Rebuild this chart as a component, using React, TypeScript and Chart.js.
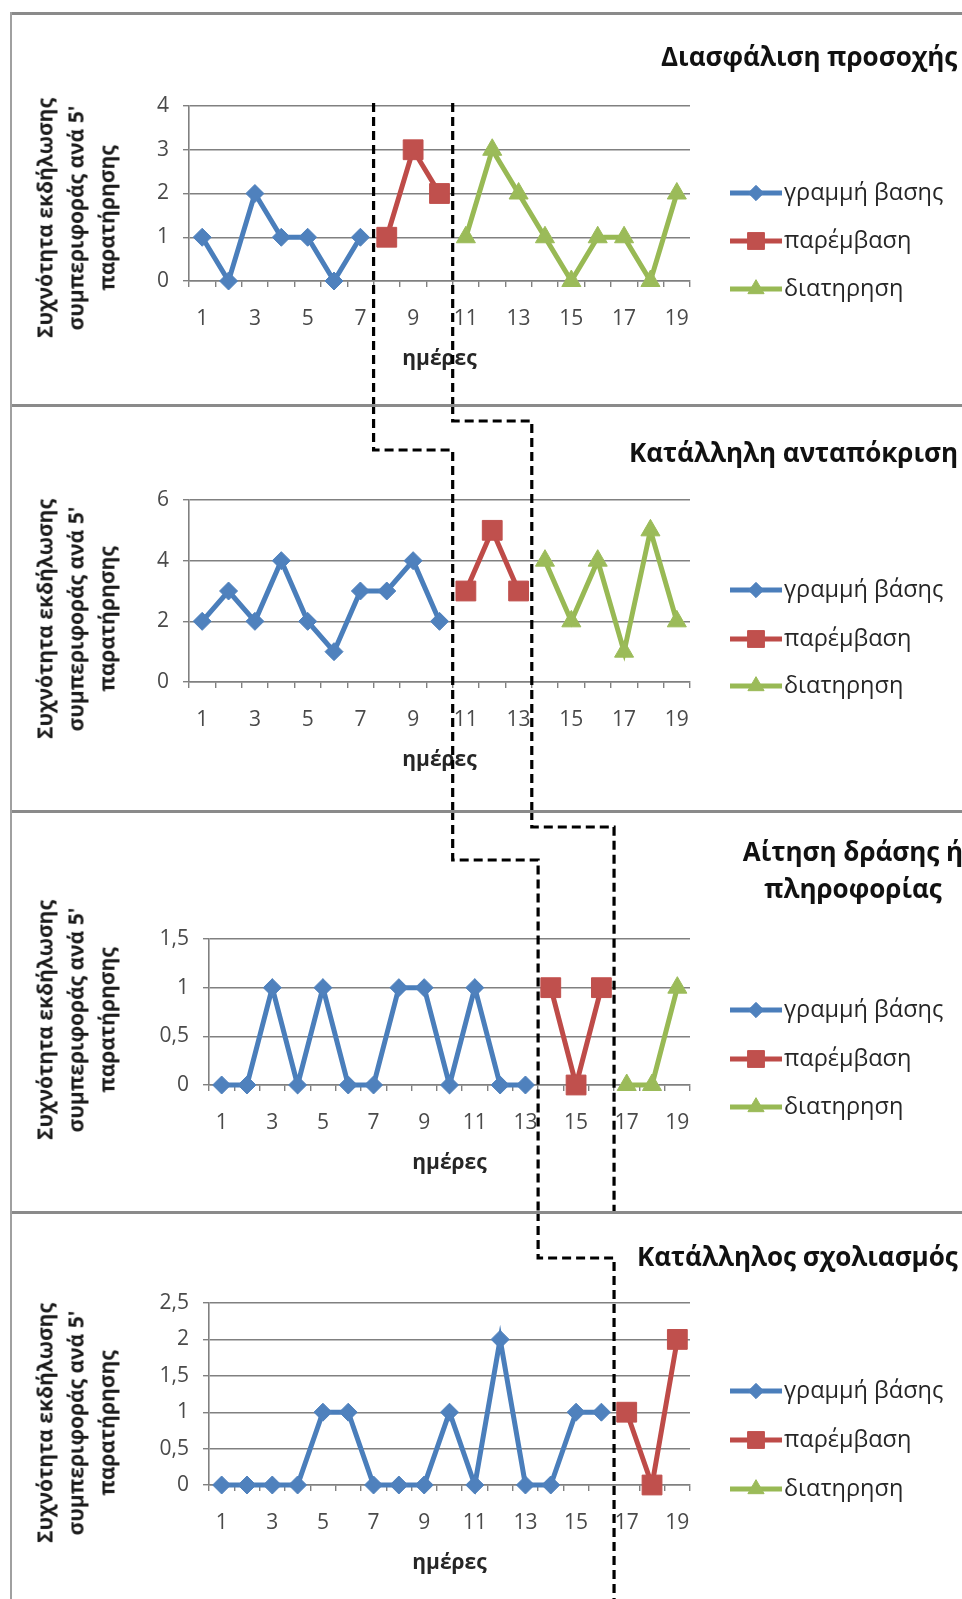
import React, { useEffect, useRef } from 'react';
import { Chart, registerables } from 'chart.js';
import { drawPoint } from 'chart.js/helpers';

Chart.register(...registerables);

// ---------- DATA ----------
const days = ['1', '2', '3', '4', '5', '6', '7', '8', '9', '10', '11', '12', '13', '14', '15', '16', '17', '18', '19'];

const attentionBaseline = [1, 0, 2, 1, 1, 0, 1];
const attentionIntervention = [1, 3, 2];
const attentionMaintenance = [1, 3, 2, 1, 0, 1, 1, 0, 2];

const responseBaseline = [2, 3, 2, 4, 2, 1, 3, 3, 4, 2];
const responseIntervention = [3, 5, 3];
const responseMaintenance = [4, 2, 4, 1, 5, 2];

const requestBaseline = [0, 0, 1, 0, 1, 0, 0, 1, 1, 0, 1, 0, 0];
const requestIntervention = [1, 0, 1];
const requestMaintenance = [0, 0, 1];

const commentBaseline = [0, 0, 0, 0, 1, 1, 0, 0, 0, 1, 0, 2, 0, 0, 1, 1];
const commentIntervention = [1, 0, 2];
const commentMaintenance: number[] = [];

const panelTitles = [
  ['Διασφάλιση προσοχής'],
  ['Κατάλληλη ανταπόκριση'],
  ['Αίτηση δράσης ή', 'πληροφορίας'],
  ['Κατάλληλος σχολιασμός'],
];
const seriesLabelsFirst = ['γραμμή βασης', 'παρέμβαση', 'διατηρηση'];
const seriesLabels = ['γραμμή βάσης', 'παρέμβαση', 'διατηρηση'];
const yMaxes = [4, 6, 1.5, 2.5];
const ySteps = [1, 2, 0.5, 0.5];
const yAxisTitle = ['Συχνότητα εκδήλωσης', "συμπεριφοράς ανά 5'", 'παρατήρησης'];
const xAxisTitle = 'ημέρες';

const panelPhases = [
  [attentionBaseline, attentionIntervention, attentionMaintenance],
  [responseBaseline, responseIntervention, responseMaintenance],
  [requestBaseline, requestIntervention, requestMaintenance],
  [commentBaseline, commentIntervention, commentMaintenance],
];

// ---------- STYLE / LAYOUT ----------
const W = 962;
const FONT = "'Open Sans', 'Noto Sans', sans-serif";
const GRID = '#808080';
const TICK_COLOR = '#4a4a4a';
const X_TITLE_SIZE = 21;
const X_TITLE_OFFSET = 78; // distance axis -> centre of x title
const SERIES_STYLE = [
  { line: '#4A7EBB', fill: '#4F81BD', pointStyle: 'rectRot', radius: 9 },
  { line: '#BE4B48', fill: '#C0504D', pointStyle: 'rect', radius: 14 },
  { line: '#98B954', fill: '#9BBB59', pointStyle: 'triangle', radius: 11 },
];

type PanelLayout = {
  top: number; height: number; areaTop: number; areaBottom: number; areaLeft: number; areaRight: number;
  legendYs: number[]; conn: number[]; titleLeft?: number; titleCenter?: number; titleTop: number; yTitleCy: number;
};

const LAYOUT: PanelLayout[] = [
  { top: 0, height: 405, areaTop: 106, areaBottom: 281, areaLeft: 189, areaRight: 690, legendYs: [193, 241, 289], conn: [0, 0], titleLeft: 661, titleTop: 56, yTitleCy: 218 },
  { top: 405, height: 406, areaTop: 95, areaBottom: 277, areaLeft: 189, areaRight: 690, legendYs: [185, 234, 281], conn: [45, 16], titleLeft: 629, titleTop: 47, yTitleCy: 214 },
  { top: 811, height: 401, areaTop: 128, areaBottom: 274, areaLeft: 209, areaRight: 690, legendYs: [199, 248, 296], conn: [49, 16], titleCenter: 853, titleTop: 41, yTitleCy: 209 },
  { top: 1212, height: 387, areaTop: 91, areaBottom: 273, areaLeft: 209, areaRight: 690, legendYs: [179, 228, 277], conn: [46, 16], titleLeft: 637, titleTop: 44, yTitleCy: 211 },
];

function phaseData(phases: number[][]) {
  const out: (number | null)[][] = [];
  let offset = 0;
  phases.forEach((vals) => {
    const arr: (number | null)[] = days.map(() => null);
    vals.forEach((v, i) => { arr[offset + i] = v; });
    out.push(arr);
    offset += vals.length;
  });
  return out;
}

function boundaries(phases: number[][]) {
  const b1 = phases[0].length;
  const b2 = b1 + phases[1].length;
  return [b1, b2];
}

const legendPlugin = {
  id: 'excelLegend',
  afterDraw(chart: any, _a: any, opts: any) {
    const ctx = chart.ctx;
    const x0 = 730;
    const len = 52;
    chart.data.datasets.forEach((ds: any, i: number) => {
      const y = opts.ys[i];
      ctx.save();
      ctx.strokeStyle = ds.borderColor;
      ctx.lineWidth = 5;
      ctx.beginPath();
      ctx.moveTo(x0, y);
      ctx.lineTo(x0 + len, y);
      ctx.stroke();
      ctx.fillStyle = ds.pointBackgroundColor;
      ctx.strokeStyle = ds.pointBorderColor;
      ctx.lineWidth = 1;
      drawPoint(ctx, { pointStyle: ds.pointStyle, radius: ds.pointRadius * 0.85, rotation: 0, borderWidth: 1 } as any, x0 + len / 2, y);
      ctx.fillStyle = '#262626';
      ctx.font = `23.5px ${FONT}`;
      ctx.textBaseline = 'middle';
      ctx.textAlign = 'left';
      ctx.fillText(ds.label, x0 + len + 2, y);
      ctx.restore();
    });
  },
};

export default function App() {
  const refs = [useRef<HTMLCanvasElement>(null), useRef<HTMLCanvasElement>(null), useRef<HTMLCanvasElement>(null), useRef<HTMLCanvasElement>(null)];

  useEffect(() => {
    const charts: Chart[] = [];
    LAYOUT.forEach((L, pi) => {
      const canvas = refs[pi].current;
      if (!canvas) return;
      const phases = panelPhases[pi];
      const data = phaseData(phases);
      const labels = pi === 0 ? seriesLabelsFirst : seriesLabels;
      const [b1, b2] = boundaries(phases);
      const xScaleHeight = X_TITLE_OFFSET + (X_TITLE_SIZE * 1.2) / 2;

      const phasePlugin = {
        id: 'phaseLines' + pi,
        afterDraw(chart: any) {
          const ctx = chart.ctx;
          const xs = chart.scales.x;
          const h = chart.height;
          const cur = [xs.getPixelForValue(b1 - 0.5), xs.getPixelForValue(b2 - 0.5)];
          const show = [true, b2 < days.length];
          ctx.save();
          ctx.strokeStyle = '#000';
          ctx.lineWidth = 3.2;
          ctx.setLineDash([9, 5]);
          for (let k = 0; k < 2; k++) {
            if (!show[k]) continue;
            ctx.beginPath();
            if (pi === 0) {
              ctx.moveTo(cur[k], chart.chartArea.top - 3);
              ctx.lineTo(cur[k], h);
            } else {
              const prevChart: any = charts[pi - 1];
              const [pb1, pb2] = boundaries(panelPhases[pi - 1]);
              const prevX = prevChart.scales.x.getPixelForValue((k === 0 ? pb1 : pb2) - 0.5);
              const cy = L.conn[k];
              ctx.moveTo(prevX, 0);
              ctx.lineTo(prevX, cy);
              ctx.lineTo(cur[k], cy);
              ctx.lineTo(cur[k], h);
            }
            ctx.stroke();
          }
          ctx.restore();
        },
      };

      const chart = new Chart(canvas, {
        type: 'line',
        data: {
          labels: days,
          datasets: data.map((d, si) => ({
            label: labels[si],
            data: d,
            borderColor: SERIES_STYLE[si].line,
            backgroundColor: SERIES_STYLE[si].fill,
            borderWidth: 5,
            pointStyle: SERIES_STYLE[si].pointStyle as any,
            pointRadius: SERIES_STYLE[si].radius,
            pointBackgroundColor: SERIES_STYLE[si].fill,
            pointBorderColor: SERIES_STYLE[si].fill,
            pointBorderWidth: 1,
            tension: 0,
            spanGaps: false,
            clip: false as any,
          })),
        },
        options: {
          responsive: false,
          animation: false,
          events: [],
          layout: {
            autoPadding: false,
            padding: { left: 0, top: L.areaTop, right: W - L.areaRight, bottom: L.height - L.areaBottom - xScaleHeight },
          },
          plugins: {
            legend: { display: false },
            tooltip: { enabled: false },
            title: { display: false },
            excelLegend: { ys: L.legendYs },
          } as any,
          scales: {
            x: {
              type: 'category',
              offset: true,
              grid: { offset: true, drawOnChartArea: false, drawTicks: true, tickLength: 6, color: GRID, lineWidth: 1.4 },
              border: { display: true, color: GRID, width: 1.6 },
              ticks: {
                autoSkip: false,
                maxRotation: 0,
                padding: 19,
                color: TICK_COLOR,
                font: { family: FONT, size: 21 },
                callback: (_v: any, i: number) => (i % 2 === 0 ? days[i] : ''),
              },
              title: { display: true, text: xAxisTitle, color: '#262626', font: { family: FONT, size: X_TITLE_SIZE, weight: 'bold' }, padding: 0 },
              afterFit: (s: any) => { s.height = xScaleHeight; },
            },
            y: {
              min: 0,
              max: yMaxes[pi],
              grid: { color: GRID, lineWidth: 1.4, drawTicks: true, tickLength: 6 },
              border: { display: true, color: GRID, width: 1.6 },
              ticks: {
                stepSize: ySteps[pi],
                padding: 14,
                color: TICK_COLOR,
                font: { family: FONT, size: 21 },
                callback: (v: any) => String(v).replace('.', ','),
              },
              afterFit: (s: any) => { s.width = L.areaLeft; },
            },
          },
        } as any,
        plugins: [legendPlugin as any, phasePlugin as any],
      });
      charts.push(chart);
    });
    return () => { charts.forEach((c) => c.destroy()); };
  }, []);

  const borderColor = '#8a8a8a';
  return (
    <div style={{ position: 'absolute', left: 0, top: 0, width: W, height: 1599, overflow: 'hidden', background: '#fff', fontFamily: FONT }}>
      {LAYOUT.map((L, pi) => (
        <canvas key={'c' + pi} ref={refs[pi]} width={W} height={L.height}
          style={{ position: 'absolute', left: 0, top: L.top, display: 'block' }} />
      ))}
      <div style={{ position: 'absolute', left: 10, top: 12, width: W, height: 3, background: borderColor }} />
      {LAYOUT.slice(1).map((L, i) => (
        <div key={'b' + i} style={{ position: 'absolute', left: 10, top: L.top - 1, width: W, height: 3, background: borderColor }} />
      ))}
      <div style={{ position: 'absolute', left: 10, top: 12, width: 2, height: 1599, background: '#a0a0a0' }} />
      {LAYOUT.map((L, pi) => (
        <div key={'t' + pi} style={{
          position: 'absolute', top: L.top + L.titleTop, whiteSpace: 'nowrap',
          left: L.titleLeft !== undefined ? L.titleLeft : L.titleCenter,
          transform: L.titleLeft !== undefined ? 'translateY(-50%)' : 'translate(-50%, -19px)',
          fontSize: 26, fontWeight: 'bold', lineHeight: '37px', color: '#111', textAlign: 'center',
        }}>
          {panelTitles[pi].map((t, j) => <div key={j}>{t}</div>)}
        </div>
      ))}
      {LAYOUT.map((L, pi) => (
        <div key={'y' + pi} style={{
          position: 'absolute', left: 76, top: L.top + L.yTitleCy, whiteSpace: 'nowrap',
          transform: 'translate(-50%, -50%) rotate(-90deg)', textAlign: 'center',
          fontSize: 21, fontWeight: 'bold', lineHeight: '31px', color: '#1a1a1a',
        }}>
          {yAxisTitle.map((t, j) => <div key={j}>{t}</div>)}
        </div>
      ))}
    </div>
  );
}
